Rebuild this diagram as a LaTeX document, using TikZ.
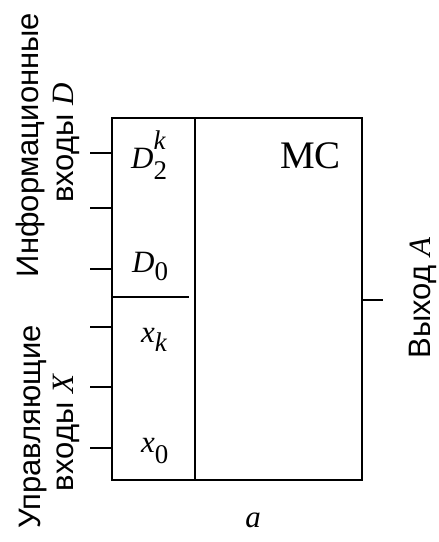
\documentclass[tikz,border=0pt]{standalone}
\usepackage{fontspec}
\usepackage{unicode-math}
\setmainfont{Liberation Serif}
\setmathfont{Latin Modern Math}
\setmathfont{Liberation Serif Italic}[range=it->up]
\setmathfont{Liberation Serif}[range=up/num]
\newfontfamily\rusf{Liberation Sans}
\usetikzlibrary{positioning}
\newcommand{\idx}[2]{\raisebox{#1}{\fontsize{27}{27}\selectfont #2}}

\begin{document}
\begin{tikzpicture}[
  x=1pt,y=-1pt,
  blk/.style={draw,line width=2.4pt,minimum width=250pt,minimum height=362pt,
    inner sep=0pt},
  pin/.style={line width=2.4pt},
  lbl/.style={font=\fontsize{31}{32}\selectfont\itshape,anchor=base west,
    inner sep=0pt},
  vcap/.style={font=\rusf\fontsize{31}{33}\selectfont,rotate=90,anchor=base,
    inner sep=0pt}]
  \useasboundingbox (0,0) rectangle (439,542);
  \node[blk](box) at (237,299) {};
  % inner divisions
  \coordinate (divtop) at (195,118);
  \draw[pin](divtop) -- (divtop |- box.south);
  \coordinate (dsep) at (189,297);
  \draw[pin](box.west |- dsep) -- (dsep);
  % inputs and output
  \foreach \y [count=\i] in {153,208,269,327,387,448}{
    \coordinate (in\i) at (90,\y);
    \draw[pin](in\i) -- (in\i -| box.west);
  }
  \coordinate (out) at (383,300);
  \draw[pin](out -| box.east) -- (out);
  % labels
  \node[lbl](d2k) at (131,168)
    {D\rlap{\idx{19pt}{k}}\idx{-11pt}{\upshape 2}};
  \node[lbl](d0) at (132,272) {D\idx{-8pt}{\upshape 0}};
  \node[lbl](xk) at (141,342) {x\idx{-9pt}{k}};
  \node[lbl](x0) at (141,452) {x\idx{-11pt}{\upshape 0}};
  \node[font=\fontsize{39}{40}\selectfont,anchor=base west,inner sep=0pt](mc)
    at (280,168) {MC};
  \node[font=\fontsize{31}{31}\selectfont\itshape](a) at (253,520) {a};
  \node[vcap](infl) at (38,145) {Информационные};
  \node[vcap](infv) at (73,143) {входы $D$};
  \node[vcap](ctl) at (40,427) {Управляющие};
  \node[vcap](ctlv) at (73,433) {входы $X$};
  \node[vcap](outl) at (430,298) {Выход $A$};
\end{tikzpicture}
\end{document}
